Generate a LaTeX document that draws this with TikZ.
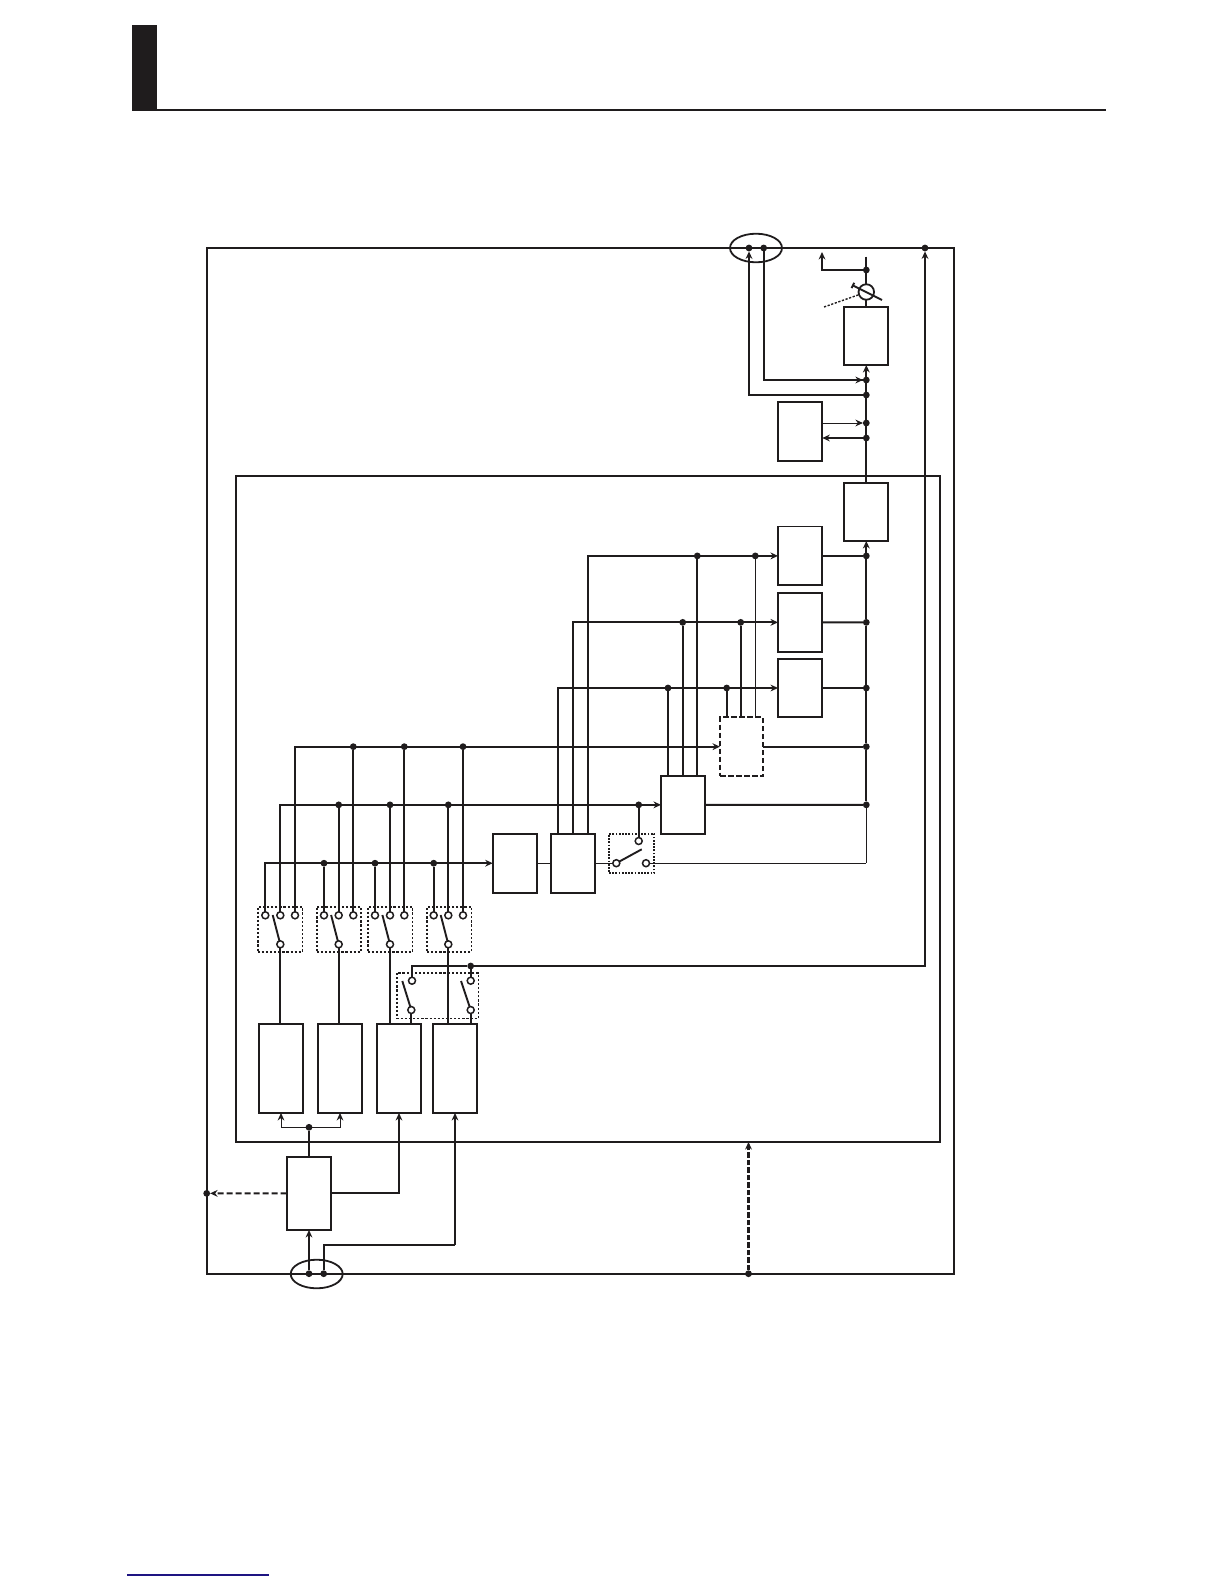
\documentclass[tikz,border=0pt]{standalone}
\usetikzlibrary{shapes.geometric,arrows.meta}
\definecolor{ink}{HTML}{1F1C1D}
\tikzset{
  x=1pt,y=-1pt,
  wire/.style={line width=1.9pt,draw=ink},
  fine/.style={line width=1pt,draw=ink},
  tip/.style={-{Stealth[length=7.5pt,width=6.8pt]}},
  rtip/.style={{Stealth[length=7.5pt,width=6.8pt]}-},
  blk/.style={draw=ink,line width=1.8pt,inner sep=0pt,outer sep=0pt},
  dashblk/.style={blk,dash pattern=on 5.5pt off 2.5pt},
  dotblk/.style={blk,line width=1.6pt,dash pattern=on 2.2pt off 1.9pt},
  dotblkb/.style={blk,line width=1.9pt,dash pattern=on 1.7pt off 1.5pt},
  dot/.style={circle,fill=ink,draw=none,minimum size=6.8pt,inner sep=0pt,outer sep=0pt},
  term/.style={circle,draw=ink,line width=1.5pt,fill=white,minimum size=7pt,inner sep=0pt,outer sep=0pt},
  oval/.style={ellipse,draw=ink,line width=1.8pt,inner sep=0pt,outer sep=0pt,minimum width=52pt,minimum height=28.6pt},
  gaugemark/.style={circle,draw=ink,line width=1.8pt,minimum size=15.5pt,inner sep=0pt,outer sep=0pt},
}
\newcommand{\blkat}[6][blk]{\node[#1,minimum width={(#5-#3)*1pt},minimum height={(#6-#4)*1pt}] (#2) at ({(#3+#5)/2},{(#4+#6)/2}) {};}
\begin{document}
\begin{tikzpicture}
\useasboundingbox (0,0) rectangle (1224,1584);
% page furniture
\fill[ink] (132,25.5) rectangle (157,110);
\draw[draw=ink,line width=2pt] (132,110.5) -- (1106,110.5);
\draw[line width=1.4pt,draw={rgb,255:red,30;green,20;blue,130}] (127,1575) -- (268.7,1575);
% frames
\blkat{outer}{206.7}{248}{954}{1273.7}
\blkat{inner}{235.7}{476}{940}{1142}
\node[oval] (ellT) at (756,248) {};
\node[oval] (ellB) at (316.7,1274) {};
% blocks
\blkat{mtr}{844.3}{307}{888.3}{365}
\blkat{aux}{778}{402}{822.3}{461}
\blkat{cnv}{844.3}{483}{888.3}{541}
\blkat{ra}{778}{526.5}{822.3}{585.3}
\blkat{rb}{778}{592.7}{822.3}{652}
\blkat{rc}{778}{658.7}{822.3}{717.3}
\blkat[dashblk]{dsh}{720}{717.3}{763}{776}
\blkat{mid}{661}{775.7}{705.3}{834}
\blkat{fa}{492.7}{833.7}{537.3}{892.7}
\blkat{fb}{550.7}{833.7}{595.3}{892.7}
\blkat{ba}{258.7}{1024.3}{303.3}{1113}
\blkat{bb}{317.7}{1024.3}{362.3}{1113}
\blkat{bc}{376.7}{1024.3}{421.3}{1113}
\blkat{bd}{432.7}{1024.3}{477.3}{1113}
\blkat{ctl}{286.7}{1156.7}{331.3}{1230}
% dotted switch boxes
\blkat[dotblk]{swa}{257.7}{906.7}{302.3}{952}
\blkat[dotblk]{swb}{316.7}{906.7}{361}{952}
\blkat[dotblk]{swc}{367.7}{906.7}{412.3}{952}
\blkat[dotblk]{swd}{427}{906.7}{471.3}{952}
\blkat[dotblk]{swe}{396.7}{972.7}{478.3}{1018.3}
\blkat[dotblkb]{swf}{609}{833.7}{654.3}{873}
% dots top
\node[dot] (p1) at (749,248) {};
\node[dot] (p2) at (763.7,248) {};
\node[dot] (p3) at (925,248) {};
\node[dot] (tr0) at (866.3,270) {};
\node[dot] (q1) at (866.3,380) {};
\node[dot] (q2) at (866.3,395) {};
\node[dot] (q3) at (866.3,423) {};
\node[dot] (q4) at (866.3,438) {};
\coordinate (stub) at (866.3,256.5);
\coordinate (up) at (822,252);
\node[gaugemark] (gg) at (866.3,292) {};
\coordinate (sla) at (852,285);
\coordinate (slb) at (882,300);
\coordinate (dtA) at (824,307);
\coordinate (dtB) at (858,295);
% trunk dots
\node[dot] (ta) at (866.3,555.9) {};
\node[dot] (tb) at (866.3,622.35) {};
\node[dot] (tc) at (866.3,688) {};
\node[dot] (td) at (866.3,746.65) {};
\node[dot] (te) at (866.3,804.85) {};
\coordinate (tf) at (866.3,863.2);
% dots on block rows
\node[dot] (d1) at (697.3,555.9) {};
\node[dot] (d2) at (682.7,622.35) {};
\node[dot] (d3) at (668,688) {};
\node[dot] (d4) at (755.3,555.9) {};
\node[dot] (d5) at (740.7,622.35) {};
\node[dot] (d6) at (726.7,688) {};
\coordinate (fb1) at (558,833.7);
\coordinate (fb2) at (573,833.7);
\coordinate (fb3) at (588,833.7);
% terminals
\foreach \n/\x in {a1/265.3,a2/280.3,a3/295,b1/324,b2/338.7,b3/353.3,c1/375,c2/390,c3/404.3,e1/433.7,e2/448.3,e3/463}
  \node[term] (\n) at (\x,915.3) {};
\foreach \n/\x in {a0/280.3,b0/338.7,c0/390,e0/448.3}
  \node[term] (\n) at (\x,944.3) {};
\coordinate (la) at (272.7,915);
\coordinate (lb) at (331.1,915);
\coordinate (lc) at (382.4,915);
\coordinate (le) at (440.7,915);
\node[term] (w1) at (412,980.7) {};
\node[term] (w2) at (470.7,980.7) {};
\node[term] (w3) at (411.3,1010) {};
\node[term] (w4) at (470.7,1010) {};
\coordinate (lw1) at (402.3,981);
\coordinate (lw2) at (461,981);
\node[term] (x1) at (638.7,841) {};
\node[term] (x2) at (616.3,863.2) {};
\node[term] (x3) at (646,863.2) {};
\coordinate (lx) at (641.7,849.3);
% bus dots
\node[dot] (bl1) at (324,863.2) {};
\node[dot] (bl2) at (375,863.2) {};
\node[dot] (bl3) at (433.7,863.2) {};
\node[dot] (bm1) at (338.7,804.85) {};
\node[dot] (bm2) at (390,804.85) {};
\node[dot] (bm3) at (448.3,804.85) {};
\node[dot] (bm4) at (638.7,804.85) {};
\node[dot] (bh1) at (353.3,746.65) {};
\node[dot] (bh2) at (404.3,746.65) {};
\node[dot] (bh3) at (463,746.65) {};
\node[dot] (jw) at (470.7,966) {};
\node[dot] (jb) at (309,1127.3) {};
\node[dot] (e1d) at (309,1273.7) {};
\node[dot] (e2d) at (323.7,1273.7) {};
\coordinate (k) at (455,1244.7);
\node[dot] (dl) at (206.7,1193.35) {};
\node[dot] (db) at (748.5,1273.7) {};
% top wires
\draw[wire,rtip] (p1) |- (q2);
\draw[wire] (p2) |- (q1);
\draw[wire,tip] (p2 |- q1) -- (q1);
\draw[wire,tip] (jw) -| (p3);
\draw[wire,tip] (tr0) -| (up);
\draw[wire] (stub) -- (tr0) -- (gg);
\draw[wire] (gg) -- (gg |- mtr.north);
\draw[wire,{Bar[width=6pt,length=0pt]}-] (sla) -- (slb);
\draw[draw=ink,line width=1.4pt,dash pattern=on 2.2pt off 1.6pt] (dtA) -- (dtB);
\draw[wire,tip] (q1) -- (q1 |- mtr.south);
\draw[wire] (q1) -- (q2) -- (q3) -- (q4) -- (q4 |- cnv.north);
\draw[fine,tip] (aux.east |- q3) -- (q3);
\draw[wire,tip] (q4) -- (aux.east |- q4);
\draw[wire,tip] (ta) -- (ta |- cnv.south);
\draw[wire] (ta) -- (tb) -- (tc) -- (td);
\draw[wire] (td) -- (te);
\draw[fine] (te) -- (tf);
% rows
\draw[wire,tip] (fb3) |- (ra.west);
\draw[wire,tip] (fb2) |- (rb.west);
\draw[wire,tip] (fb1) |- (rc.west);
\draw[wire] (ra.east) -- (ta);
\draw[wire] (rb.east) -- (tb);
\draw[wire] (rc.east) -- (tc);
\draw[wire] (dsh.east) -- (td);
\draw[wire] (mid.east) -- (te);
\draw[wire] (d1) -- (d1 |- mid.north);
\draw[wire] (d2) -- (d2 |- mid.north);
\draw[wire] (d3) -- (d3 |- mid.north);
\draw[fine] (d4) -- (d4 |- dsh.north);
\draw[wire] (d5) -- (d5 |- dsh.north);
\draw[wire] (d6) -- (d6 |- dsh.north);
% buses
\draw[wire,tip] (a3) |- (dsh.west);
\draw[wire,tip] (a2) |- (mid.west);
\draw[wire,tip] (a1) |- (fa.west);
\draw[wire] (bl1) -- (b1);
\draw[wire] (bl2) -- (c1);
\draw[wire] (bl3) -- (e1);
\draw[wire] (bm1) -- (b2);
\draw[wire] (bm2) -- (c2);
\draw[wire] (bm3) -- (e2);
\draw[wire] (bh1) -- (b3);
\draw[wire] (bh2) -- (c3);
\draw[wire] (bh3) -- (e3);
\draw[fine] (fa.east) -- (fb.west);
\draw[fine] (fb.east) -- (x2);
\draw[fine] (x3) -- (tf);
\draw[wire] (x2) -- (lx);
\draw[wire] (x1) -- (bm4);
% switches
\draw[wire] (a0) -- (la);
\draw[wire] (b0) -- (lb);
\draw[wire] (c0) -- (lc);
\draw[wire] (e0) -- (le);
\draw[wire] (w3) -- (lw1);
\draw[wire] (w4) -- (lw2);
\draw[wire] (a0) -- (a0 |- ba.north);
\draw[wire] (b0) -- (b0 |- bb.north);
\draw[wire] (c0) -- (c0 |- bc.north);
\draw[wire] (e0) -- (e0 |- bd.north);
\draw[wire] (w3) -- (w3 |- bc.north);
\draw[wire] (w4) -- (w4 |- bd.north);
\draw[wire] (w1) |- (jw);
\draw[wire] (w2) -- (jw);
% bottom
\draw[wire] (ctl.north) -- (jb);
\draw[fine,tip] (jb) -| (ba.south);
\draw[fine,tip] (jb) -| (bb.south);
\draw[wire,tip] (ctl.east) -| (bc.south);
\draw[wire,tip] (e1d) -- (ctl.south);
\draw[wire] (e2d) |- (k);
\draw[wire,tip] (k) -- (bd.south);
\draw[wire,tip,line width=2pt,dash pattern=on 6pt off 3pt] (ctl.west) -- (dl);
\draw[draw=ink,line width=2.4pt,tip,dash pattern=on 5.5pt off 2pt] (db) -- (db |- inner.south);
\end{tikzpicture}
\end{document}
